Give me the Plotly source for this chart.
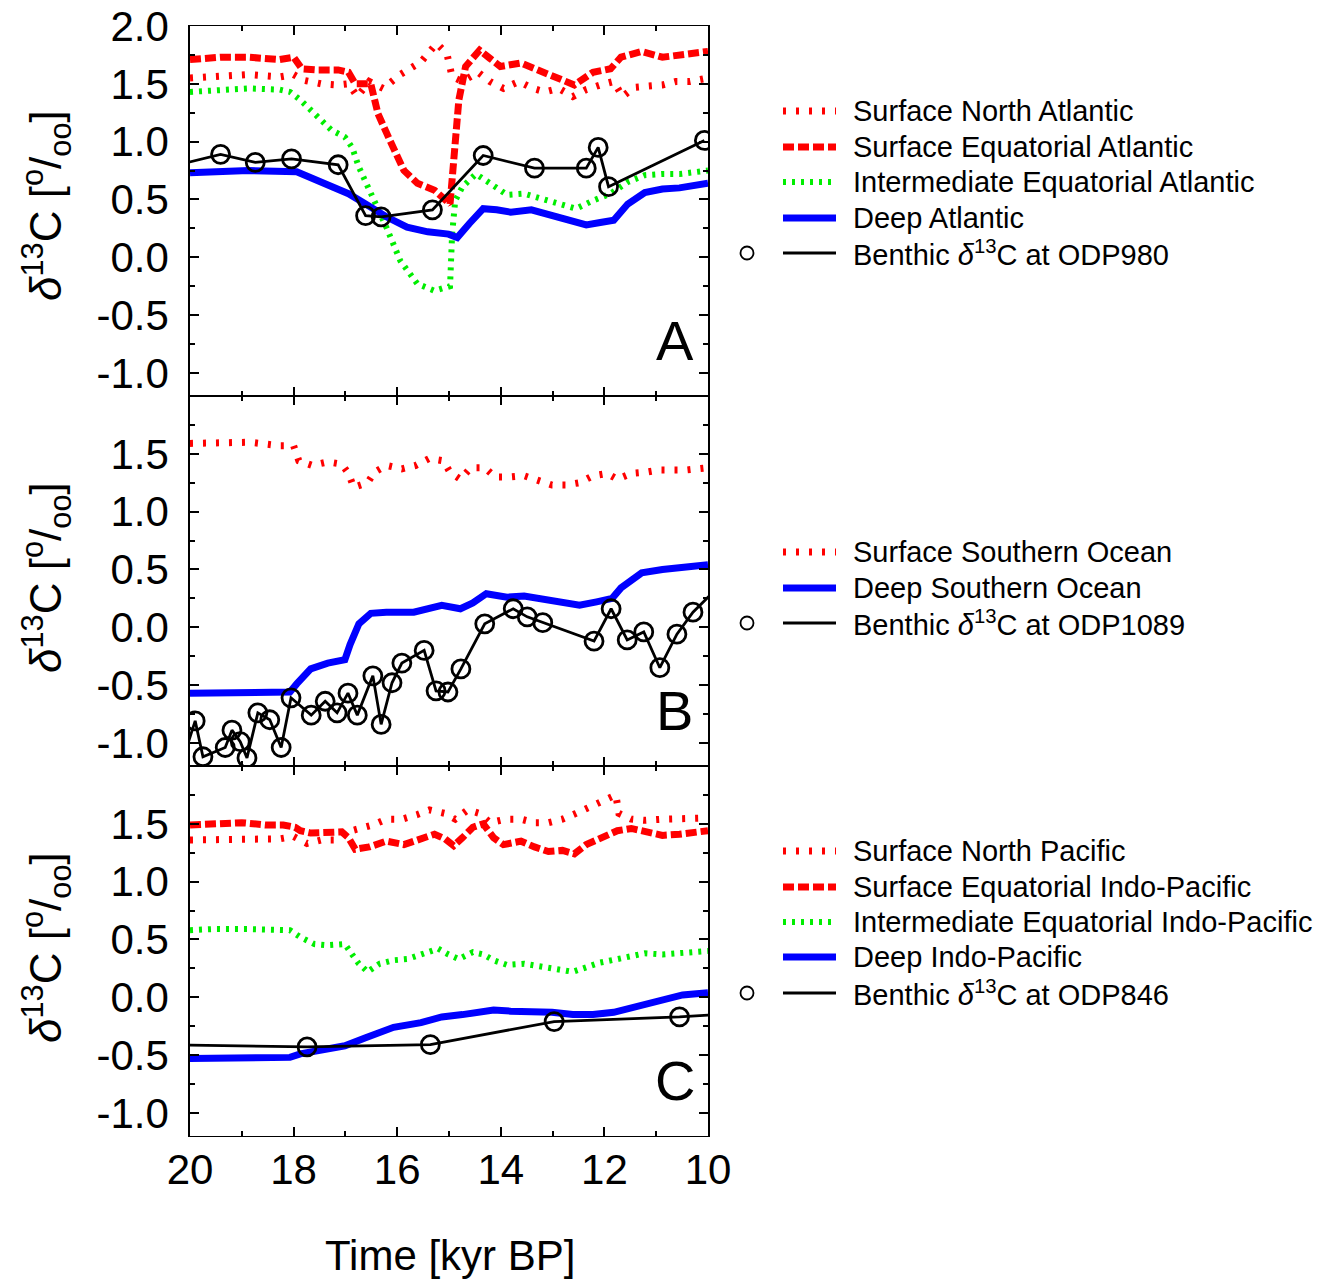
import plotly.graph_objects as go

# ---------------- Panel A: Atlantic ----------------
a_sna_t = [20.0, 19.4, 18.87, 18.27, 18.0, 17.8, 17.47, 17.14, 16.94, 16.77, 16.54, 16.27, 15.94, 15.54,
           15.24, 15.04, 14.94, 14.74, 14.44, 14.21, 13.95, 13.65, 13.38, 13.15, 12.88, 12.61, 12.35,
           12.08, 11.82, 11.65, 11.42, 11.15, 10.88, 10.62, 10.35, 10.0]
a_sna_v = [1.55, 1.57, 1.58, 1.56, 1.58, 1.53, 1.50, 1.49, 1.50, 1.39, 1.52, 1.46, 1.58, 1.69,
           1.85, 1.76, 1.56, 1.52, 1.60, 1.52, 1.46, 1.52, 1.46, 1.43, 1.46, 1.39, 1.45,
           1.49, 1.52, 1.39, 1.47, 1.48, 1.49, 1.52, 1.52, 1.55]

a_sea_t = [20.0, 19.4, 18.87, 18.27, 18.0, 17.84, 17.54, 17.14, 16.94, 16.81, 16.51, 16.37, 16.14, 15.87,
           15.61, 15.28, 14.98, 14.88, 14.81, 14.68, 14.41, 14.21, 14.01, 13.61, 13.28, 12.95, 12.58,
           12.22, 11.88, 11.68, 11.28, 10.88, 10.55, 10.0]
a_sea_v = [1.71, 1.73, 1.73, 1.71, 1.73, 1.63, 1.62, 1.62, 1.60, 1.50, 1.50, 1.24, 1.01, 0.75,
           0.64, 0.58, 0.46, 1.07, 1.36, 1.65, 1.79, 1.72, 1.65, 1.68, 1.62, 1.56, 1.49,
           1.60, 1.63, 1.73, 1.78, 1.73, 1.75, 1.78]

a_iea_t = [20.0, 19.4, 18.87, 18.27, 18.07, 17.87, 17.54, 17.27, 17.01, 16.87, 16.74, 16.47, 16.21, 15.94,
           15.61, 15.28, 14.98, 14.94, 14.88, 14.74, 14.48, 14.21, 13.88, 13.55, 13.21, 12.88, 12.55,
           12.22, 11.88, 11.55, 11.22, 10.88, 10.55, 10.0]
a_iea_v = [1.43, 1.45, 1.46, 1.45, 1.43, 1.36, 1.21, 1.10, 1.04, 0.95, 0.78, 0.52, 0.26, -0.03,
           -0.23, -0.29, -0.25, 0.20, 0.49, 0.61, 0.72, 0.64, 0.54, 0.55, 0.51, 0.46, 0.42,
           0.49, 0.55, 0.65, 0.71, 0.72, 0.72, 0.75]

a_deep_t = [20.0, 18.87, 17.94, 17.41, 16.94, 16.61, 16.21, 15.81, 15.41, 15.01, 14.84, 14.61, 14.34,
            14.08, 13.81, 13.41, 13.01, 12.68, 12.35, 12.08, 11.82, 11.55, 11.22, 10.88, 10.55, 10.0]
a_deep_v = [0.73, 0.75, 0.74, 0.64, 0.55, 0.46, 0.35, 0.26, 0.22, 0.20, 0.17, 0.29, 0.42,
            0.41, 0.39, 0.41, 0.36, 0.32, 0.28, 0.30, 0.32, 0.46, 0.56, 0.59, 0.60, 0.64]

odp980_t = [20.4, 19.41, 18.74, 18.04, 17.14, 16.61, 16.31, 15.32, 14.34, 13.35, 12.35, 12.12, 11.92, 10.07]
odp980_v = [0.78, 0.89, 0.82, 0.85, 0.80, 0.36, 0.35, 0.41, 0.88, 0.77, 0.77, 0.95, 0.61, 1.01]

# ---------------- Panel B: Southern Ocean ----------------
b_sso_t = [20.0, 19.4, 18.84, 18.27, 18.0, 17.9, 17.64, 17.34, 17.07, 16.94, 16.84, 16.57, 16.44, 16.21,
           15.91, 15.64, 15.38, 15.11, 14.98, 14.78, 14.58, 14.31, 14.11, 13.81, 13.55, 13.28, 13.01,
           12.75, 12.48, 12.22, 11.95, 11.75, 11.48, 11.22, 10.95, 10.69, 10.42, 10.0]
b_sso_v = [1.59, 1.59, 1.60, 1.57, 1.57, 1.44, 1.40, 1.43, 1.41, 1.33, 1.21, 1.25, 1.34, 1.40,
           1.37, 1.40, 1.46, 1.44, 1.34, 1.28, 1.38, 1.38, 1.30, 1.30, 1.31, 1.27, 1.23,
           1.23, 1.25, 1.31, 1.33, 1.28, 1.33, 1.34, 1.36, 1.36, 1.36, 1.38]

b_deep_t = [20.0, 18.87, 18.07, 17.94, 17.67, 17.34, 17.01, 16.91, 16.74, 16.51, 16.21, 15.68, 15.14,
            14.78, 14.54, 14.28, 13.88, 13.55, 13.15, 12.81, 12.48, 12.15, 11.85, 11.68, 11.28, 10.88,
            10.49, 10.0]
b_deep_v = [-0.57, -0.56, -0.56, -0.49, -0.36, -0.31, -0.28, -0.15, 0.03, 0.12, 0.13, 0.13, 0.19,
            0.16, 0.21, 0.29, 0.26, 0.27, 0.24, 0.21, 0.19, 0.22, 0.25, 0.34, 0.47, 0.50,
            0.52, 0.54]

odp1089_t = [20.1, 19.90, 19.75, 19.32, 19.19, 19.03, 18.90, 18.69, 18.46, 18.24, 18.05, 17.66, 17.39,
             17.16, 16.95, 16.77, 16.47, 16.31, 16.10, 15.91, 15.48, 15.25, 15.02, 14.77, 14.31, 13.76,
             13.49, 13.19, 12.20, 11.87, 11.56, 11.24, 10.93, 10.60, 10.29, 9.8]
odp1089_v = [-1.09, -0.81, -1.12, -1.04, -0.89, -0.99, -1.13, -0.74, -0.80, -1.04, -0.61, -0.76, -0.64,
             -0.74, -0.57, -0.76, -0.42, -0.84, -0.48, -0.31, -0.20, -0.55, -0.56, -0.36, 0.03, 0.16,
             0.09, 0.04, -0.12, 0.16, -0.11, -0.04, -0.35, -0.06, 0.13, 0.35]

# ---------------- Panel C: Indo-Pacific ----------------
c_snp_t = [20.0, 19.4, 18.87, 18.27, 18.0, 17.74, 17.47, 17.21, 16.97, 16.74, 16.47, 16.21, 15.91, 15.61,
           15.38, 15.08, 14.88, 14.64, 14.41, 14.21, 13.91, 13.61, 13.35, 13.08, 12.81, 12.55, 12.28,
           12.02, 11.78, 11.72, 11.48, 11.22, 10.88, 10.55, 10.0]
c_snp_v = [1.36, 1.36, 1.36, 1.37, 1.39, 1.33, 1.36, 1.36, 1.43, 1.46, 1.49, 1.54, 1.54, 1.58,
           1.62, 1.59, 1.54, 1.62, 1.59, 1.51, 1.54, 1.54, 1.51, 1.51, 1.54, 1.59, 1.64,
           1.70, 1.75, 1.59, 1.54, 1.53, 1.54, 1.54, 1.55]

c_seip_t = [20.0, 19.53, 19.0, 18.54, 18.2, 17.97, 17.87, 17.67, 17.41, 17.07, 16.94, 16.81, 16.54, 16.21,
            15.87, 15.61, 15.28, 15.08, 14.91, 14.74, 14.54, 14.34, 14.14, 13.95, 13.61, 13.35, 13.08,
            12.81, 12.58, 12.35, 12.02, 11.75, 11.48, 11.22, 10.88, 10.55, 10.0]
c_seip_v = [1.49, 1.50, 1.51, 1.49, 1.49, 1.47, 1.44, 1.42, 1.42, 1.43, 1.38, 1.28, 1.30, 1.35,
            1.32, 1.36, 1.41, 1.37, 1.31, 1.38, 1.47, 1.50, 1.38, 1.32, 1.35, 1.30, 1.26,
            1.27, 1.24, 1.32, 1.39, 1.44, 1.46, 1.43, 1.40, 1.41, 1.44]

c_ieip_t = [20.0, 19.53, 18.87, 18.27, 18.07, 17.87, 17.6, 17.34, 17.01, 16.87, 16.74, 16.57, 16.34, 16.07,
            15.81, 15.54, 15.21, 15.01, 14.81, 14.54, 14.34, 14.14, 13.88, 13.55, 13.21, 12.88, 12.61,
            12.35, 12.08, 11.75, 11.48, 11.22, 10.88, 10.55, 10.0]
c_ieip_v = [0.58, 0.59, 0.59, 0.58, 0.58, 0.52, 0.46, 0.45, 0.46, 0.37, 0.29, 0.22, 0.29, 0.32,
            0.33, 0.37, 0.42, 0.37, 0.33, 0.39, 0.37, 0.32, 0.28, 0.29, 0.27, 0.24, 0.22,
            0.26, 0.30, 0.33, 0.35, 0.38, 0.37, 0.38, 0.40]

c_deep_t = [20.0, 19.2, 18.07, 17.87, 17.41, 17.01, 16.61, 16.07, 15.54, 15.14, 14.74, 14.41, 14.14,
            13.81, 13.41, 13.01, 12.61, 12.22, 11.82, 11.55, 11.22, 10.88, 10.49, 10.0]
c_deep_v = [-0.53, -0.52, -0.52, -0.49, -0.45, -0.42, -0.35, -0.26, -0.22, -0.17, -0.15, -0.12, -0.11,
            -0.12, -0.12, -0.13, -0.15, -0.15, -0.13, -0.10, -0.05, -0.01, 0.02, 0.04]

odp846_t = [20.5, 17.74, 15.36, 12.97, 10.55, 9.5]
odp846_v = [-0.41, -0.43, -0.41, -0.21, -0.17, -0.14]

# ---------------- Axis ticks and labels ----------------
x_tickvals = [20, 18, 16, 14, 12, 10]
x_ticktext = ["20", "18", "16", "14", "12", "10"]
x_minorvals = [19, 17, 15, 13, 11]
y_tickvals_top = [-1.0, -0.5, 0.0, 0.5, 1.0, 1.5, 2.0]
y_ticktext_top = ["-1.0", "-0.5", "0.0", "0.5", "1.0", "1.5", "2.0"]
y_tickvals = [-1.0, -0.5, 0.0, 0.5, 1.0, 1.5]
y_ticktext = ["-1.0", "-0.5", "0.0", "0.5", "1.0", "1.5"]
y_minorvals = [-0.75, -0.25, 0.25, 0.75, 1.25, 1.75]

panel_letters = ["A", "B", "C"]
legend_a = ["Surface North Atlantic", "Surface Equatorial Atlantic", "Intermediate Equatorial Atlantic",
            "Deep Atlantic", "Benthic <i>δ</i><sup>13</sup>C at ODP980"]
legend_b = ["Surface Southern Ocean", "Deep Southern Ocean", "Benthic <i>δ</i><sup>13</sup>C at ODP1089"]
legend_c = ["Surface North Pacific", "Surface Equatorial Indo-Pacific", "Intermediate Equatorial Indo-Pacific",
            "Deep Indo-Pacific", "Benthic <i>δ</i><sup>13</sup>C at ODP846"]

# ---------------- Styles ----------------
FONT = "Liberation Sans, Arial, Helvetica, sans-serif"
RED, GREEN, BLUE, BLACK = "#ff0000", "#00ee00", "#0000ff", "#000000"
STYLE = {
    "sdot": dict(color=RED, width=7, dash="3px,10px"),
    "sdash": dict(color=RED, width=7, dash="11px,4px"),
    "gdot": dict(color=GREEN, width=6, dash="3px,6px"),
    "deep": dict(color=BLUE, width=7),
    "bent": dict(color=BLACK, width=2.8),
}

W, H = 1336, 1284
ML, MR, MT, MB = 190, 628, 26, 148
PW, PH = W - ML - MR, H - MT - MB


def pxx(px):
    return (px - ML) / PW


def pxy(py):
    return (H - MB - py) / PH


fig = go.Figure()


def add_line(t, v, style, ax):
    fig.add_trace(go.Scatter(x=t, y=v, mode="lines", line=STYLE[style], showlegend=False,
                             xaxis="x" + ax, yaxis="y" + ax, hoverinfo="skip"))


def add_benthic(t, v, ax):
    # circles only for samples inside the time window; the line still runs to the frame edge
    sizes = [18 if 10 <= ti <= 20 else 0 for ti in t]
    fig.add_trace(go.Scatter(x=t, y=v, mode="lines+markers", line=STYLE["bent"],
                             marker=dict(symbol="circle-open", size=sizes, color=BLACK, opacity=1,
                                         line=dict(width=2.8, color=BLACK)),
                             showlegend=False, xaxis="x" + ax, yaxis="y" + ax, hoverinfo="skip"))


# Panel A (axes x / y)
add_line(a_sna_t, a_sna_v, "sdot", "")
add_line(a_sea_t, a_sea_v, "sdash", "")
add_line(a_iea_t, a_iea_v, "gdot", "")
add_line(a_deep_t, a_deep_v, "deep", "")
add_benthic(odp980_t, odp980_v, "")
# Panel B
add_line(b_sso_t, b_sso_v, "sdot", "2")
add_line(b_deep_t, b_deep_v, "deep", "2")
add_benthic(odp1089_t, odp1089_v, "2")
# Panel C
add_line(c_snp_t, c_snp_v, "sdot", "3")
add_line(c_seip_t, c_seip_v, "sdash", "3")
add_line(c_ieip_t, c_ieip_v, "gdot", "3")
add_line(c_deep_t, c_deep_v, "deep", "3")
add_benthic(odp846_t, odp846_v, "3")

axis_common = dict(showline=True, linecolor=BLACK, mirror="ticks",
                   ticks="inside", ticklen=9, tickwidth=1.5, tickcolor=BLACK,
                   showgrid=False, zeroline=False, tickfont=dict(family=FONT, size=42, color=BLACK))


def xaxis(anchor, labels):
    return dict(axis_common, linewidth=1.1, range=[20, 10], anchor=anchor, domain=[0, 1],
                tickmode="array", tickvals=x_tickvals, ticktext=x_ticktext,
                showticklabels=labels, ticklabelstandoff=-3,
                minor=dict(tickmode="array", tickvals=x_minorvals, ticks="inside",
                           ticklen=5, tickwidth=1.5, tickcolor=BLACK))


def yaxis(anchor, dom, vals, text):
    return dict(axis_common, linewidth=1.5, range=[-1.2, 2.0], anchor=anchor, domain=dom,
                tickmode="array", tickvals=vals, ticktext=text, ticklabelstandoff=11,
                minor=dict(tickmode="array", tickvals=y_minorvals, ticks="inside",
                           ticklen=5, tickwidth=1.5, tickcolor=BLACK))


third = 1 / 3
fig.update_layout(
    width=W, height=H, margin=dict(l=ML, r=MR, t=MT, b=MB, autoexpand=False),
    paper_bgcolor="white", plot_bgcolor="white", showlegend=False,
    font=dict(family=FONT, color=BLACK),
    xaxis=xaxis("y", False), xaxis2=xaxis("y2", False), xaxis3=xaxis("y3", True),
    yaxis=yaxis("x", [2 * third, 1], y_tickvals_top, y_ticktext_top),
    yaxis2=yaxis("x2", [third, 2 * third], y_tickvals, y_ticktext),
    yaxis3=yaxis("x3", [0, third], y_tickvals, y_ticktext),
)

annotations = []
shapes = []
ytitle = "<i>δ</i><sup>13</sup>C [<sup>o</sup>/<sub>oo</sub>]"
panel_centers = [206, 578, 948]
for cy in panel_centers:
    annotations.append(dict(text=ytitle, textangle=-90, x=pxx(46), y=pxy(cy), xref="paper", yref="paper",
                            xanchor="center", yanchor="middle", showarrow=False,
                            font=dict(family=FONT, size=44, color=BLACK)))

annotations.append(dict(text="Time [kyr BP]", x=pxx(450), y=pxy(1255), xref="paper", yref="paper",
                        xanchor="center", yanchor="middle", showarrow=False,
                        font=dict(family=FONT, size=42, color=BLACK)))

for letter, ax in zip(panel_letters, ["", "2", "3"]):
    annotations.append(dict(text=letter, x=10.64, y=-0.72, xref="x" + ax, yref="y" + ax,
                            xanchor="center", yanchor="middle", showarrow=False,
                            font=dict(family=FONT, size=56, color=BLACK)))

# Key entries drawn beside each panel
legend_rows = [
    (legend_a, ["sdot", "sdash", "gdot", "deep", "bent"], [111, 147, 182, 218, 253]),
    (legend_b, ["sdot", "deep", "bent"], [552, 588, 623]),
    (legend_c, ["sdot", "sdash", "gdot", "deep", "bent"], [851, 887, 922, 957, 993]),
]
for labels, styles, rows in legend_rows:
    for lab, st, ry in zip(labels, styles, rows):
        sty = dict(STYLE[st])
        if st == "bent":
            sty["width"] = 3
        shapes.append(dict(type="line", xref="paper", yref="paper", x0=pxx(783), x1=pxx(836),
                           y0=pxy(ry), y1=pxy(ry), line=sty))
        annotations.append(dict(text=lab, x=pxx(851), y=pxy(ry), xref="paper", yref="paper",
                                xanchor="left", yanchor="middle", showarrow=False,
                                font=dict(family=FONT, size=29, color=BLACK)))
        if st == "bent":
            r = 6.5
            shapes.append(dict(type="circle", xref="paper", yref="paper",
                               x0=pxx(747 - r), x1=pxx(747 + r), y0=pxy(ry + r), y1=pxy(ry - r),
                               line=dict(color=BLACK, width=1.8)))

fig.update_layout(annotations=annotations, shapes=shapes)
fig.write_html("out.html")
